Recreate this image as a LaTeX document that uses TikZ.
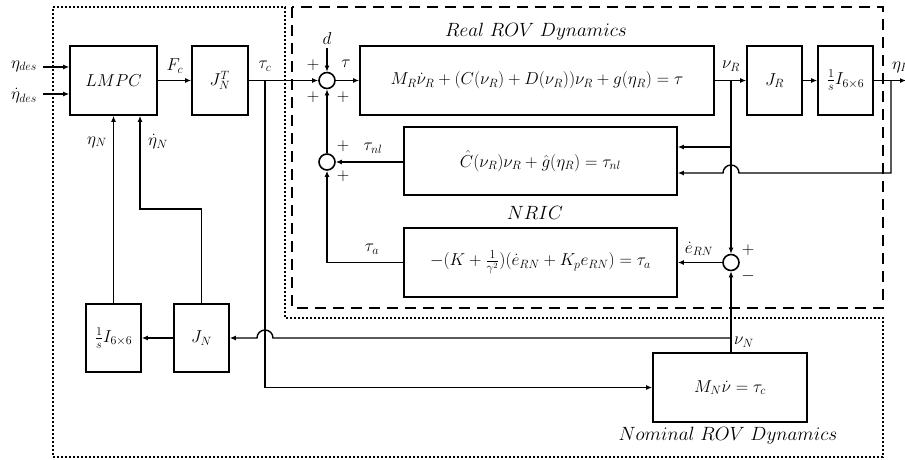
\documentclass[tikz,border=0pt]{standalone}
\usetikzlibrary{arrows.meta}
\begin{document}
\begin{tikzpicture}[x=1pt,y=-1pt,
  font=\fontsize{17}{20}\selectfont,
  blk/.style={draw,line width=1.6pt,inner sep=0pt,anchor=center},
  sumnode/.style={draw,circle,line width=1.6pt,minimum size=16pt,inner sep=0pt},
  arr/.style={line width=1.4pt,-{Latex[length=6pt,width=5pt]}},
  ln/.style={line width=1.4pt},
  lbl/.style={inner sep=0pt,anchor=center},
  ttl/.style={inner sep=0pt,anchor=center,scale=1.11},
  dottedbox/.style={line width=2pt,dash pattern=on 2pt off 2pt},
  dashedbox/.style={line width=2.6pt,dash pattern=on 11pt off 7pt}]
\clip (0,0) rectangle (905,459);
\fill[white] (0,0) rectangle (905,459);

% enclosing boxes
\draw[dottedbox] (53,7) -- (285,7) -- (285,318) -- (883,318) -- (883,457) -- (53,457) -- cycle;
\draw[dashedbox] (292,7) rectangle (883,308);

% blocks
\node[blk,minimum width=87pt,minimum height=69pt] (lmpc) at (113.5,80.5) {$LMPC$};
\node[blk,minimum width=56pt,minimum height=69pt] (jnt) at (220,80.5) {$J_N^T$};
\node[blk,minimum width=354pt,minimum height=69pt] (real) at (537,80.5) {$M_R\dot{\nu}_R+(C(\nu_R)+D(\nu_R))\nu_R+g(\eta_R)=\tau$};
\node[blk,minimum width=55pt,minimum height=69pt] (jr) at (774.5,80.5) {$J_R$};
\node[blk,minimum width=55pt,minimum height=69pt] (int1) at (845.5,80.5) {$\frac{1}{s}I_{6\times6}$};
\node[blk,minimum width=273pt,minimum height=68pt] (nl) at (540.5,161) {$\hat{C}(\nu_R)\nu_R+\hat{g}(\eta_R)=\tau_{nl}$};
\node[blk,minimum width=273pt,minimum height=69pt] (nric) at (540.5,262.5) {$-(K+\frac{1}{\gamma^2})(\dot{e}_{RN}+K_pe_{RN})=\tau_a$};
\node[blk,minimum width=154pt,minimum height=69pt] (nom) at (730,387.5) {$M_N\dot{\nu}=\tau_c$};
\node[blk,minimum width=55pt,minimum height=68pt] (jn) at (201.5,338) {$J_N$};
\node[blk,minimum width=55pt,minimum height=68pt] (int2) at (113.5,338) {$\frac{1}{s}I_{6\times6}$};

% summing junctions
\node[sumnode] (s1) at (327,80.5) {};
\node[sumnode] (s2) at (327,162) {};
\node[sumnode] (s3) at (731,262.5) {};

% coordinates
\coordinate (in1) at (43,67);
\coordinate (in2) at (43,94);
\coordinate (tc) at (265,80.5);
\coordinate (dtop) at (327,48);
\coordinate (nuR) at (731,80.5);
\coordinate (nuRb) at (731,147);
\coordinate (etaR) at (891,80.5);
\coordinate (etaRb) at (891,173);
\coordinate (hop1) at (739,173);
\coordinate (out) at (906,80.5);
\coordinate (nuN) at (731,338);
\coordinate (hop2) at (273,338);
\coordinate (k1) at (140,209);

% connectors
\draw[arr] (in1) -- (lmpc.west |- in1);
\draw[arr] (in2) -- (lmpc.west |- in2);
\draw[arr] (lmpc) -- (jnt);
\draw[arr] (jnt.east) -- (s1.west);
\draw[arr] (dtop) -- (s1.north);
\draw[arr] (s1.east) -- (real.west);
\draw[arr] (real.east) -- (jr.west);
\draw[arr] (jr) -- (int1);
\draw[arr] (int1.east) -- (out);
\draw[arr] (nuR) -- (s3.north);
\draw[arr] (nuRb) -- (nuRb -| nl.east);
\draw[arr] (etaR) -- (etaRb) -- (hop1) arc[start angle=0,end angle=180,radius=8pt] -- (hop1 -| nl.east);
\draw[arr] (nl.west |- s2) -- (s2.east);
\draw[arr] (s2.north) -- (s1.south);
\draw[arr] (nric.west) -| (s2.south);
\draw[arr] (s3.west) -- (nric.east |- s3);
\draw[arr] (nom.north -| s3) -- (s3.south);
\draw[arr] (nuN) -- (hop2) arc[start angle=0,end angle=180,radius=8pt] -- (jn.east);
\draw[arr] (jn.west) -- (int2.east);
\draw[arr] (int2.north) -- (lmpc.south);
\draw[arr] (jn.north) |- (k1) -- (k1 |- lmpc.south);
\draw[arr] (tc) |- (nom.west);

% labels
\node[lbl] (l1) at (24,66) {$\eta_{des}$};
\node[lbl] (l2) at (24,96) {$\dot{\eta}_{des}$};
\node[lbl] (l3) at (175,66) {$F_c$};
\node[lbl] (l4) at (265,66) {$\tau_c$};
\node[lbl] (l5) at (327,38) {$d$};
\node[lbl] (l6) at (346,64) {$\tau$};
\node[lbl] (p1) at (313,65) {$+$};
\node[lbl] (p2) at (313,97) {$+$};
\node[lbl] (p3) at (343,97) {$+$};
\node[lbl] (l7) at (731,66) {$\nu_R$};
\node[lbl] (l8) at (901,67) {$\eta_R$};
\node[ttl] (l9) at (536,32) {$Real\ ROV\ Dynamics$};
\node[lbl] (p4) at (343,146) {$+$};
\node[lbl] (p5) at (343,176) {$+$};
\node[lbl] (l10) at (373,148) {$\tau_{nl}$};
\node[ttl] (l11) at (535,213) {$NRIC$};
\node[lbl] (l12) at (372,249) {$\tau_a$};
\node[lbl] (l13) at (699,249) {$\dot{e}_{RN}$};
\node[lbl] (p6) at (748,250) {$+$};
\node[lbl] (p7) at (748,276) {$-$};
\node[lbl] (l14) at (744,342) {$\nu_N$};
\node[lbl] (l15) at (97,142) {$\eta_N$};
\node[lbl] (l16) at (158,142) {$\dot{\eta}_N$};
\node[ttl] (l17) at (728,436) {$Nominal\ ROV\ Dynamics$};
\end{tikzpicture}
\end{document}
